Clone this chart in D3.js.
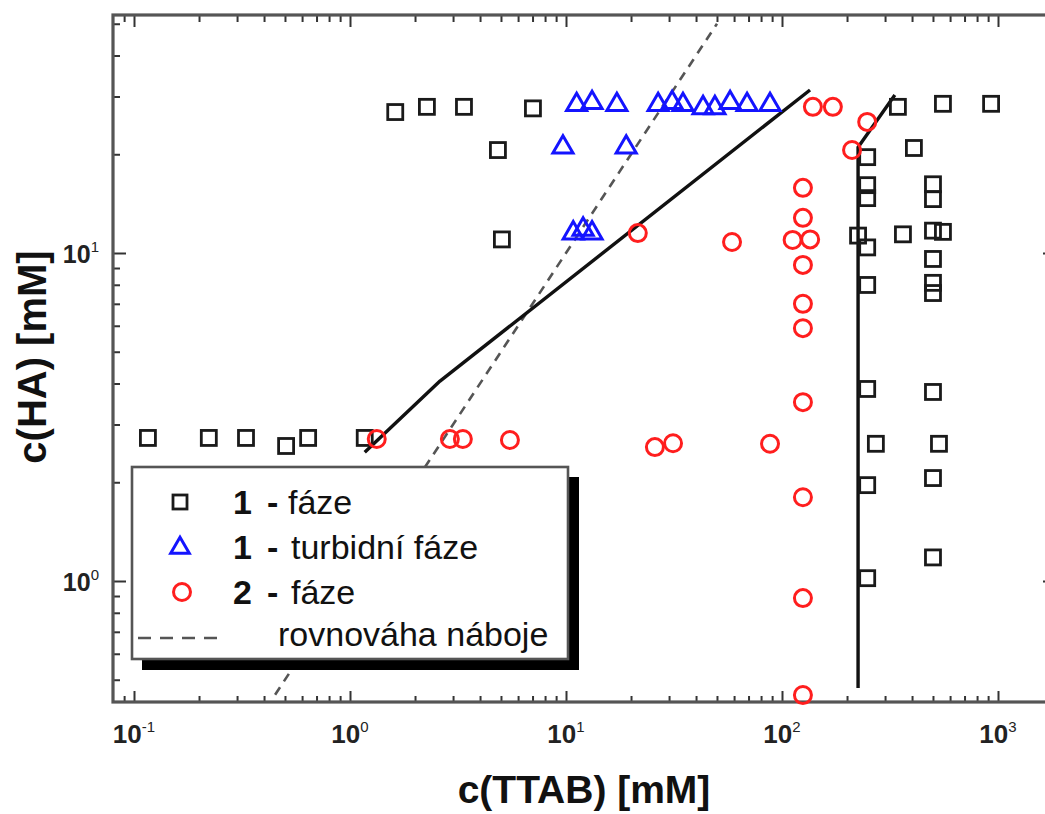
<!DOCTYPE html>
<html>
<head>
<meta charset="utf-8">
<script src="https://cdn.jsdelivr.net/npm/d3@7"></script>
<style>
  html, body { margin: 0; padding: 0; background: #fff; overflow: hidden; }
  svg { display: block; font-family: Arial, "Liberation Sans", Helvetica, sans-serif; }
</style>
</head>
<body>
<svg id="chart" width="1045" height="814"></svg>
<script>
// ---- Phase diagram data: c(TTAB) [mM] vs c(HA) [mM] ----

// one-phase (clear) samples
const onePhaseTTAB = [0.116, 0.222, 0.330, 0.506, 0.64, 1.17,
  1.62, 2.27, 3.37, 7.03, 4.84, 5.05,
  344, 556, 929, 408, 248, 248, 248, 225, 363, 248, 248, 248, 272, 248, 248,
  500, 500, 500, 556, 500, 500, 500, 500, 533, 500, 500];
const onePhaseHA = [2.73, 2.73, 2.73, 2.58, 2.73, 2.73,
  26.9, 27.9, 27.9, 27.6, 20.6, 11.0,
  27.9, 28.5, 28.5, 20.9, 19.6, 16.1, 14.7, 11.3, 11.4, 10.4, 7.99, 3.85, 2.62, 1.96, 1.02,
  16.2, 14.6, 11.7, 11.6, 9.59, 8.11, 7.55, 3.77, 2.62, 2.06, 1.18];

// one-phase turbid samples
const turbidTTAB = [11.2, 13.2, 17.2, 26.7, 31.0, 34.8, 43.1, 48.9, 57.5, 68.9, 88.0,
  9.68, 19.0,
  10.8, 12.0, 13.2];
const turbidHA = [28.3, 28.7, 28.3, 28.3, 28.7, 28.3, 27.7, 27.7, 28.7, 28.3, 28.3,
  21.0, 21.0,
  11.5, 11.8, 11.5];

// two-phase samples
const twoPhaseTTAB = [1.33, 2.90, 3.33, 5.5, 25.8, 31.3, 88,
  21.5, 58.7, 112, 135,
  125, 125, 125, 125, 125, 125, 125, 125, 125,
  139, 172, 248, 211];
const twoPhaseHA = [2.71, 2.71, 2.71, 2.69, 2.56, 2.63, 2.62,
  11.5, 10.8, 10.96, 11.0,
  15.8, 12.8, 9.2, 7.0, 5.9, 3.51, 1.80, 0.887, 0.449,
  27.9, 27.9, 25.1, 20.6];

// phase boundaries (solid) and charge-balance line (dashed)
const boundaryLowTTAB = [1.17, 2.61, 134.8];
const boundaryLowHA = [2.47, 4.07, 31.4];
const boundaryHighTTAB = [225, 225, 333];
const boundaryHighHA = [0.472, 21.0, 30.3];
const chargeBalanceTTAB = [0.45, 50];
const chargeBalanceHA = [0.45, 50];

// axis ticks
const xMajorTicks = [0.1, 1, 10, 100, 1000];
const xTickExponents = ["-1", "0", "1", "2", "3"];
const yMajorTicks = [1, 10];
const yTickExponents = ["0", "1"];

// legend entries
const legendNumbers = ["1", "1", "2", ""];
const legendTexts = ["fáze", "turbidní fáze", "fáze", "rovnováha náboje"];

// ---- layout ----
const svg = d3.select("#chart");
const frame = { left: 113, right: 1056, top: 15, bottom: 702 };

const x = d3.scaleLog().domain([0.1, 1000]).range([134, 998]);
const y = d3.scaleLog().domain([1, 10]).range([581, 253]);

// minor ticks: 2..9 multiples of each decade that fall inside [lo, hi] in pixels
function minorTicks(pos, lo, hi) {
  const out = [];
  for (let e = -2; e <= 4; e++) {
    for (let m = 2; m <= 9; m++) {
      const v = m * Math.pow(10, e);
      const p = pos(v);
      if (p > lo + 1 && p < hi - 1) out.push(v);
    }
  }
  return out;
}
const xMinor = minorTicks(x, frame.left, frame.right);
const yMinor = minorTicks(y, frame.top, frame.bottom);

function tickAxis(axisFn, scale, values, size, transform) {
  svg.append("g")
    .attr("transform", transform)
    .call(axisFn(scale).tickValues(values).tickSize(size).tickSizeOuter(0).tickFormat(""))
    .call(g => g.select(".domain").remove())
    .call(g => g.selectAll(".tick line").attr("stroke", "#333").attr("stroke-width", 2));
}

// ticks on all four sides, pointing inward
tickAxis(d3.axisBottom, x, xMajorTicks, -11, `translate(0,${frame.bottom})`);
tickAxis(d3.axisBottom, x, xMinor, -6, `translate(0,${frame.bottom})`);
tickAxis(d3.axisTop, x, xMajorTicks, -12, `translate(0,${frame.top})`);
tickAxis(d3.axisTop, x, xMinor, -7, `translate(0,${frame.top})`);
tickAxis(d3.axisLeft, y, yMajorTicks, -13, `translate(${frame.left},0)`);
tickAxis(d3.axisLeft, y, yMinor, -7, `translate(${frame.left},0)`);
tickAxis(d3.axisRight, y, yMajorTicks, -13, `translate(${frame.right},0)`);
tickAxis(d3.axisRight, y, yMinor, -7, `translate(${frame.right},0)`);

// frame
svg.append("rect")
  .attr("x", frame.left).attr("y", frame.top)
  .attr("width", frame.right - frame.left).attr("height", frame.bottom - frame.top)
  .attr("fill", "none").attr("stroke", "#555").attr("stroke-width", 3.2);

// tick labels (powers of ten)
const xLab = svg.append("g").selectAll("text")
  .data(xMajorTicks).join("text")
  .attr("x", d => x(d)).attr("y", 743)
  .attr("text-anchor", "middle")
  .attr("fill", "#222").attr("font-weight", "bold").attr("font-size", 26);
xLab.append("tspan").text("10");
xLab.append("tspan").attr("dy", -11).attr("font-size", 15).attr("font-weight", "normal")
  .text((d, i) => xTickExponents[i]);

const yLab = svg.append("g").selectAll("text")
  .data(yMajorTicks).join("text")
  .attr("x", 99).attr("y", d => y(d) + 10)
  .attr("text-anchor", "end")
  .attr("fill", "#222").attr("font-weight", "bold").attr("font-size", 25);
yLab.append("tspan").text("10");
yLab.append("tspan").attr("dy", -11).attr("font-size", 15).attr("font-weight", "normal")
  .text((d, i) => yTickExponents[i]);

// axis titles
svg.append("text")
  .attr("x", 584).attr("y", 803).attr("text-anchor", "middle")
  .attr("font-weight", "bold").attr("font-size", 39).attr("fill", "#111")
  .text("c(TTAB) [mM]");
svg.append("text")
  .attr("transform", "translate(46,357) rotate(-90)")
  .attr("text-anchor", "middle")
  .attr("font-weight", "bold").attr("font-size", 40).attr("fill", "#111")
  .text("c(HA) [mM]");

// plot clip
svg.append("clipPath").attr("id", "plotClip")
  .append("rect").attr("x", frame.left).attr("y", frame.top)
  .attr("width", frame.right - frame.left).attr("height", frame.bottom - frame.top);

const plot = svg.append("g");
const line = d3.line().x(d => x(d[0])).y(d => y(d[1]));

// charge balance line
plot.append("path")
  .attr("clip-path", "url(#plotClip)")
  .attr("d", line(d3.zip(chargeBalanceTTAB, chargeBalanceHA)))
  .attr("fill", "none").attr("stroke", "#555").attr("stroke-width", 2.6)
  .attr("stroke-dasharray", "9,7");

// phase boundaries
[[boundaryLowTTAB, boundaryLowHA], [boundaryHighTTAB, boundaryHighHA]].forEach(([bx, by]) => {
  plot.append("path")
    .attr("d", line(d3.zip(bx, by)))
    .attr("fill", "none").attr("stroke", "#111").attr("stroke-width", 3.4)
    .attr("stroke-linejoin", "round");
});

// one-phase squares
plot.append("g").selectAll("rect")
  .data(d3.zip(onePhaseTTAB, onePhaseHA)).join("rect")
  .attr("x", d => x(d[0]) - 7.5).attr("y", d => y(d[1]) - 7.5)
  .attr("width", 15).attr("height", 15)
  .attr("fill", "none").attr("stroke", "#1a1a1a").attr("stroke-width", 2.8);

// turbid triangles
const tri = d3.symbol(d3.symbolTriangle, 175);
plot.append("g").selectAll("path")
  .data(d3.zip(turbidTTAB, turbidHA)).join("path")
  .attr("transform", d => `translate(${x(d[0])},${y(d[1])})`)
  .attr("d", tri)
  .attr("fill", "none").attr("stroke", "#1414ff").attr("stroke-width", 3)
  .attr("stroke-linejoin", "miter");

// two-phase circles
plot.append("g").selectAll("circle")
  .data(d3.zip(twoPhaseTTAB, twoPhaseHA)).join("circle")
  .attr("cx", d => x(d[0])).attr("cy", d => y(d[1])).attr("r", 8.5)
  .attr("fill", "none").attr("stroke", "#ff1e1e").attr("stroke-width", 3);

// ---- legend ----
const lg = svg.append("g");
const box = { x: 132, y: 467, w: 436, h: 192 };
lg.append("rect").attr("x", box.x + 10).attr("y", box.y + 10)
  .attr("width", box.w + 1).attr("height", box.h + 1).attr("fill", "#000");
lg.append("rect").attr("x", box.x).attr("y", box.y)
  .attr("width", box.w).attr("height", box.h)
  .attr("fill", "#fff").attr("stroke", "#555").attr("stroke-width", 2.6);

const rowY = [502, 547, 592, 637];
lg.append("rect").attr("x", 180 - 7).attr("y", rowY[0] - 7).attr("width", 14).attr("height", 14)
  .attr("fill", "none").attr("stroke", "#1a1a1a").attr("stroke-width", 2.8);
lg.append("path").attr("transform", `translate(180,${rowY[1] + 1})`).attr("d", d3.symbol(d3.symbolTriangle, 150))
  .attr("fill", "none").attr("stroke", "#1414ff").attr("stroke-width", 3);
lg.append("circle").attr("cx", 182).attr("cy", rowY[2]).attr("r", 8.5)
  .attr("fill", "none").attr("stroke", "#ff1e1e").attr("stroke-width", 3);
lg.append("line").attr("x1", 138).attr("x2", 224).attr("y1", rowY[3] + 1).attr("y2", rowY[3] + 1)
  .attr("stroke", "#555").attr("stroke-width", 2.6).attr("stroke-dasharray", "13,9");

legendTexts.forEach((t, i) => {
  const base = rowY[i] + 12;
  if (legendNumbers[i]) {
    lg.append("text").attr("x", 233).attr("y", base)
      .attr("font-size", 34).attr("font-weight", "bold").attr("fill", "#111")
      .text(legendNumbers[i]);
    lg.append("text").attr("x", 267).attr("y", base)
      .attr("font-size", 34).attr("font-weight", "bold").attr("fill", "#111")
      .text("-");
    lg.append("text").attr("x", i === 0 ? 288 : 291).attr("y", base)
      .attr("font-size", 34).attr("fill", "#111").text(t);
  } else {
    lg.append("text").attr("x", 278).attr("y", base - 3)
      .attr("font-size", 34).attr("fill", "#111").text(t);
  }
});
</script>
</body>
</html>
